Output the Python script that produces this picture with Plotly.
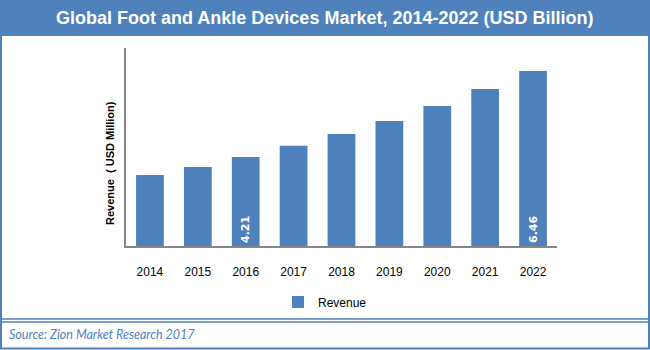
import plotly.graph_objects as go

years = ["2014", "2015", "2016", "2017", "2018", "2019", "2020", "2021", "2022"]
revenue = [3.74, 3.95, 4.21, 4.50, 4.81, 5.15, 5.54, 5.99, 6.46]
shown_labels = ["", "", "4.21", "", "", "", "", "", "6.46"]
series_name = "Revenue"
title_text = "Global Foot and Ankle Devices Market, 2014-2022 (USD Billion)"
y_title = "Revenue  ( USD Million)"
source_text = "Source: Zion Market Research 2017"
y_axis_min = 1.88
y_axis_max = 7.06

W, H = 650, 350
L, R, T, B = 126, 557, 48, 246
BLUE = "#4F81BD"

def px(x):
    return (x - L) / (R - L)

def py(y):
    return (B - y) / (B - T)

fig = go.Figure()
fig.add_trace(go.Bar(
    x=years,
    y=[v - y_axis_min for v in revenue],
    base=[y_axis_min] * len(revenue),
    customdata=revenue,
    hovertemplate="%{x}: %{customdata}<extra></extra>",
    name=series_name,
    marker=dict(color=BLUE, line=dict(width=0)),
    text=shown_labels, textposition="inside", insidetextanchor="start",
    textangle=-90,
    insidetextfont=dict(color="white", size=11, family="DejaVu Sans", weight="bold"),
))

shapes = [
    dict(type="rect", xref="paper", yref="paper", x0=px(0), x1=px(650), y0=py(0), y1=py(35),
         fillcolor=BLUE, line=dict(width=0), layer="below"),
    dict(type="rect", xref="paper", yref="paper", x0=px(1), x1=px(649), y0=py(35), y1=py(348.5),
         fillcolor="rgba(0,0,0,0)", line=dict(color=BLUE, width=2)),
    dict(type="line", xref="paper", yref="paper", x0=px(1), x1=px(649), y0=py(319), y1=py(319),
         line=dict(color=BLUE, width=1.5)),
    dict(type="line", xref="paper", yref="paper", x0=px(1), x1=px(649), y0=py(322), y1=py(322),
         line=dict(color=BLUE, width=1.5)),
]

annotations = [
    dict(text="<b>" + title_text + "</b>", xref="paper", yref="paper", x=px(325), y=py(18),
         showarrow=False, xanchor="center", yanchor="middle",
         font=dict(color="white", size=18, family="Liberation Sans")),
    dict(text="<b>" + y_title + "</b>", xref="paper", yref="paper", x=px(110), y=py(163),
         showarrow=False, textangle=-90, xanchor="center", yanchor="middle",
         font=dict(color="black", size=11, family="Liberation Sans")),
    dict(text="<i>" + source_text + "</i>", xref="paper", yref="paper", x=px(7), y=py(334),
         showarrow=False, xanchor="left", yanchor="middle",
         font=dict(color=BLUE, size=12.5, family="Lato")),
]

fig.update_layout(
    width=W, height=H,
    margin=dict(l=L, r=W - R, t=T, b=H - B, pad=0),
    paper_bgcolor="white", plot_bgcolor="white",
    bargap=0.42,
    showlegend=True,
    legend=dict(orientation="h", x=px(325), y=py(302), xanchor="center", yanchor="middle",
                font=dict(size=12, family="Liberation Sans", color="black"),
                itemwidth=30, bgcolor="rgba(0,0,0,0)"),
    shapes=shapes, annotations=annotations,
    font=dict(family="Liberation Sans", size=12, color="black"),
)
fig.update_xaxes(showline=True, linecolor="#868686", linewidth=1.5, ticks="", showgrid=False,
                 tickfont=dict(size=12, family="Liberation Sans", color="black"), ticklabelstandoff=14)
fig.update_yaxes(range=[y_axis_min, y_axis_max], showline=True, linecolor="#868686", linewidth=1.5,
                 showticklabels=False, ticks="", showgrid=False, zeroline=False)

fig.write_html("out.html")
